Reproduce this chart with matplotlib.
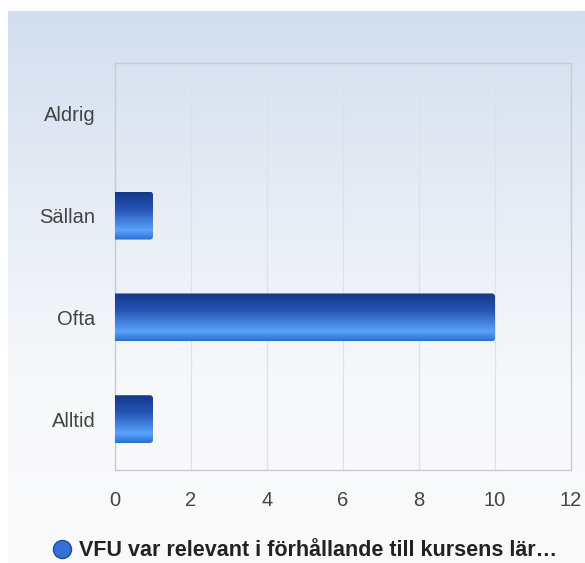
import matplotlib.pyplot as plt
import numpy as np
from matplotlib.patches import FancyBboxPatch
from matplotlib.lines import Line2D
from matplotlib.colors import LinearSegmentedColormap

categories = ["Aldrig", "Sällan", "Ofta", "Alltid"]
values = [0, 1, 10, 1]
xticks = [0, 2, 4, 6, 8, 10, 12]
series_label = "VFU var relevant i förhållande till kursens lär…"

plt.rcParams['font.family'] = ['Liberation Sans', 'DejaVu Sans']

W, H = 585, 563
fig = plt.figure(figsize=(W / 100, H / 100), dpi=100)
fig.patch.set_facecolor('white')

# background panel with vertical gradient
bg = fig.add_axes([8 / W, 0, 1 - 8 / W, 1 - 11 / H])
bg_cmap = LinearSegmentedColormap.from_list('bg', ['#d2deef', '#e6ecf5', '#f7f8fa', '#fafafa'])
bg.imshow(np.linspace(0, 1, 256).reshape(-1, 1), aspect='auto', cmap=bg_cmap,
          extent=(0, 1, 0, 1), origin='upper')
bg.set_axis_off()

# plot area
left, right, top, bottom = 115, 571, 63, 470
ax = fig.add_axes([left / W, 1 - bottom / H, (right - left) / W, (bottom - top) / H])
ax.set_facecolor('none')

ax.set_xticks(xticks)
ax.set_xticklabels([str(t) for t in xticks])
ax.set_yticks(range(len(categories)))
ax.set_yticklabels(categories)
ax.tick_params(axis='both', length=0, labelsize=14.5, colors='#444444')
ax.tick_params(axis='x', pad=15)
ax.tick_params(axis='y', pad=14)
ax.grid(axis='x', color='#dde2e9', linewidth=0.9)
ax.set_axisbelow(True)
for s in ax.spines.values():
    s.set_color('#c6ccd4')
    s.set_linewidth(1.0)

bar_cmap = LinearSegmentedColormap.from_list(
    'bar', [(0, '#143886'), (0.35, '#2552b4'), (0.72, '#4f94ec'),
            (0.8, '#5aa3fb'), (1.0, '#2a6ed4')])
grad = np.linspace(0, 1, 128).reshape(-1, 1)
bh = 0.47
aspect = (1 / 101.75) / (1 / 38)
for i, v in enumerate(values):
    if v <= 0:
        continue
    patch = FancyBboxPatch((-0.5, i - bh / 2), v + 0.5, bh,
                           boxstyle='round,pad=0,rounding_size=0.09',
                           mutation_aspect=aspect, facecolor='none',
                           edgecolor='none', transform=ax.transData)
    ax.add_patch(patch)
    im = ax.imshow(grad, aspect='auto', cmap=bar_cmap, origin='upper',
                   extent=(-0.5, v, i + bh / 2, i - bh / 2), zorder=3)
    im.set_clip_path(patch)

ax.set_xlim(0, 12)
ax.set_ylim(len(categories) - 0.5, -0.5)

handle = Line2D([], [], marker='o', linestyle='none', markersize=13,
                markerfacecolor='#3470d6', markeredgecolor='#1e4aa0')
fig.legend([handle], [series_label], loc='center', bbox_to_anchor=(0.518, 1 - 551 / H),
           frameon=False, handletextpad=0.2, handlelength=1.2,
           prop={'size': 15.5, 'weight': 'bold'}, labelcolor='#222222')

fig.savefig('out.png', dpi=100)
